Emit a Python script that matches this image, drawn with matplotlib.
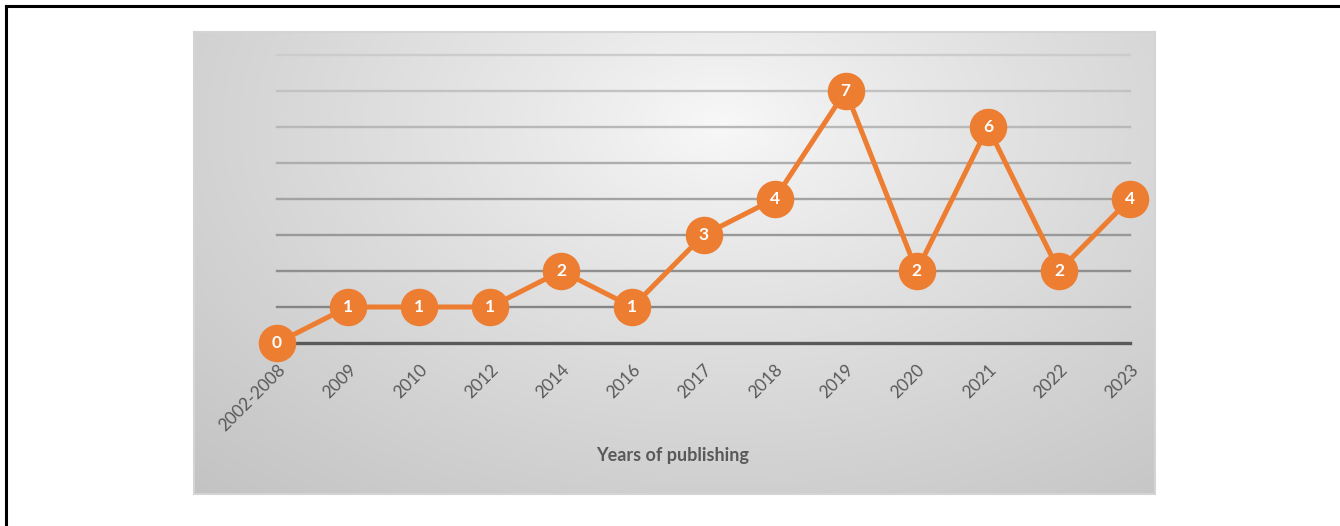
import numpy as np
import matplotlib.pyplot as plt

# publications per year
years = ['2002-2008', '2009', '2010', '2012', '2014', '2016', '2017',
         '2018', '2019', '2020', '2021', '2022', '2023']
counts = [0, 1, 1, 1, 2, 1, 3, 4, 7, 2, 6, 2, 4]

W, H = 1340, 526
fig = plt.figure(figsize=(W / 100, H / 100), dpi=100)

# outer frame (top and left edges visible)
fig.add_artist(plt.Line2D([5.5 / W, 5.5 / W], [0, 1 - 5.5 / H], color='black', lw=2.2))
fig.add_artist(plt.Line2D([5.5 / W, 1], [1 - 5.5 / H, 1 - 5.5 / H], color='black', lw=2.2))

# panel with radial gradient background
px0, py0, px1, py1 = 194, 32, 1155, 494
bg = fig.add_axes([px0 / W, 1 - py1 / H, (px1 - px0) / W, (py1 - py0) / H])
gx, gy = np.meshgrid(np.linspace(0, 1, 400), np.linspace(0, 1, 200))
r = np.sqrt(((gx - 0.55) / 0.75) ** 2 + ((gy - 0.2) / 1.0) ** 2)
r = np.clip(r / r.max(), 0, 1)
shade = 0.975 - 0.21 * r ** 0.85
bg.imshow(np.dstack([shade, shade, shade]), aspect='auto', extent=(0, 1, 1, 0))
bg.set_xticks([])
bg.set_yticks([])
for s in bg.spines.values():
    s.set_color('#d4d4d4')
    s.set_linewidth(1.5)

# main plot area
x0, x1, y0, y1 = 277, 1130, 55, 343
ax = fig.add_axes([x0 / W, 1 - y1 / H, (x1 - x0) / W, (y1 - y0) / H])
ax.patch.set_alpha(0)
xs = np.arange(len(years))
ax.set_xlim(0, len(years) - 1)
ax.set_ylim(0, 8)

for lvl in range(1, 9):
    g = 0.52 + (lvl - 1) * 0.040
    ax.axhline(lvl, color=(g, g, g), lw=1.7, zorder=1, clip_on=False)
ax.axhline(0, color='#595959', lw=2.4, zorder=1, clip_on=False)

ax.plot(xs, counts, color='#ED7D31', lw=3.6, marker='o', markersize=26,
        markerfacecolor='#ED7D31', markeredgecolor='#ED7D31', zorder=3, clip_on=False)
for x, v in zip(xs, counts):
    ax.text(x, v, str(v), color='white', fontsize=12.5, fontweight='bold',
            family='Lato', ha='center', va='center', zorder=4)

for s in ax.spines.values():
    s.set_visible(False)
ax.set_yticks([])
ax.set_xticks(xs)
ax.set_xticklabels(years, rotation=45, ha='right', va='top', rotation_mode='anchor',
                   fontsize=12.5, color='#595959', family='Lato')
ax.tick_params(axis='x', length=0, pad=13)

fig.text(673 / W, 1 - 456 / H, 'Years of publishing', ha='center', va='center',
         fontsize=13, fontweight='bold', color='#595959', family='Lato')

fig.savefig('out.png', dpi=100)
